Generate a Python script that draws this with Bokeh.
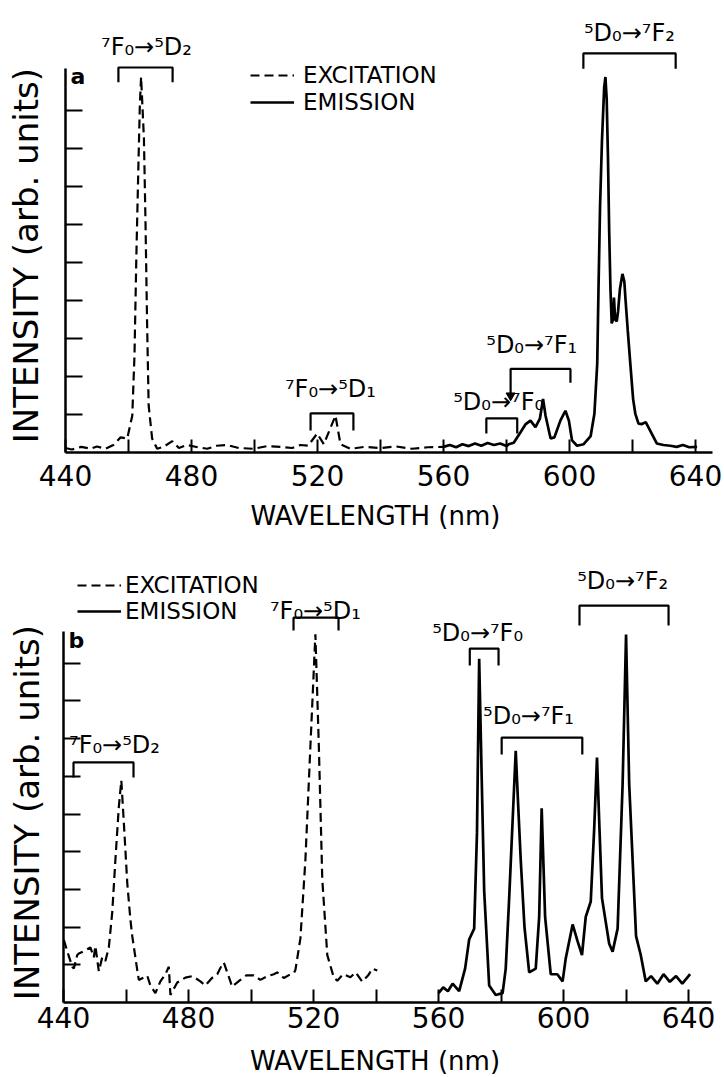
import math
from bokeh.plotting import figure
from bokeh.layouts import column
from bokeh.models import FixedTicker, Range1d, ColumnDataSource, Legend, LegendItem
from bokeh.core.properties import value
from bokeh.embed import file_html
from bokeh.resources import INLINE

FONT = "DejaVu Sans"

# ---------------- panel a data ----------------
a_exc_nm = [440, 442, 445, 448, 450, 452.7, 455.2, 457.5, 459.6, 461.2, 461.9, 462.5, 463.1, 463.6, 464.0,
            464.9, 465.4, 465.9, 466.4, 467.5, 469.1, 471.1, 473.9, 476, 478.6, 482, 485, 488, 491.3, 495,
            499.7, 504, 508.3, 512, 514.6, 517, 519.9, 522, 525.7, 527.3, 530.5, 535, 540, 545, 550, 555, 560]
a_exc_int = [0.12, 0.08, 0.15, 0.1, 0.16, 0.1, 0.2, 0.4, 0.37, 0.97, 2.55, 5.18, 7.38, 9.13, 9.88,
             8.26, 6.06, 3.43, 1.24, 0.37, 0.1, 0.15, 0.3, 0.12, 0.2, 0.14, 0.1, 0.18, 0.2, 0.12,
             0.1, 0.17, 0.15, 0.12, 0.2, 0.18, 0.5, 0.22, 0.97, 0.22, 0.1, 0.15, 0.12, 0.16, 0.1, 0.14, 0.15]

a_emi_nm = [560, 562, 564, 566, 568, 570, 572, 574, 576, 578, 580, 580.7, 582.3, 584.4, 586, 587.6, 589.2,
            590.6, 591.6, 592.4, 594, 595.2, 597.1, 598.7, 599.8, 600.8, 602.4, 604.5, 606.7, 607.9, 608.8,
            609.2, 609.7, 610.3, 611.0, 611.4, 611.8, 612.2, 612.6, 613.0, 613.4, 613.8, 614.1, 614.5, 615.0,
            615.4, 616.0, 616.8, 617.4, 617.8, 618.5, 619.3, 620.2, 620.9, 621.9, 623, 624.2, 625.6, 627.7,
            629.8, 632, 634, 636, 638, 640.5]
a_emi_int = [0.15, 0.2, 0.14, 0.22, 0.17, 0.24, 0.18, 0.25, 0.2, 0.24, 0.17, 0.22, 0.26, 0.53, 0.74, 0.84, 0.67,
             0.89, 1.41, 0.97, 0.37, 0.4, 0.84, 1.1, 0.84, 0.32, 0.18, 0.22, 0.43, 1.02, 2.34,
             4.3, 6.5, 8.2, 9.6, 9.88, 9.3, 7.8, 5.8, 4.3, 3.4, 3.5, 4.08, 3.5, 3.45,
             3.7, 4.3, 4.7, 4.5, 4.0, 3.2, 2.34, 1.4, 1.02, 0.76, 0.75, 0.8, 0.58, 0.24,
             0.2, 0.18, 0.15, 0.2, 0.14, 0.15]

a_lab_text = ["⁷F₀→⁵D₂", "⁷F₀→⁵D₁", "⁵D₀→⁷F₀", "⁵D₀→⁷F₁", "⁵D₀→⁷F₂"]
a_lab_x = [465.7, 524.1, 577.5, 588.0, 619.0]
a_lab_y = [10.66, 1.66, 1.32, 2.82, 11.03]
a_br_left = [456.8, 517.8, 573.6, 581.3, 604.4]
a_br_right = [474.0, 531.4, 583.4, 600.3, 633.7]
a_br_top = [10.13, 1.03, 0.9, 2.2, 10.5]
a_br_ldrop = [9.74, 0.58, 0.5, 1.5, 10.1]
a_br_rdrop = [9.74, 0.58, 0.5, 1.84, 10.1]
a_arrow_x = [581.3]
a_arrow_y = [1.5]

# ---------------- panel b data ----------------
b_exc_nm = [440.1, 441.2, 442.8, 443.3, 444.4, 444.9, 446.5, 448.6, 449.7, 450.2, 451.3, 452.4, 453.4, 454.5,
            455.6, 456.6, 457.7, 458.5, 459.3, 460.4, 461.4, 462.0, 463.6, 464.1, 465.7, 466.8, 467.8, 469.4,
            471, 472.6, 473.7, 474.2, 476.4, 479, 481.2, 483.8, 485.4, 487.5, 489.2, 490.7, 491.3, 493.4,
            493.9, 496.6, 498.5, 500.9, 503, 505.2, 507.3, 508.4, 510.5, 512.6, 513.7, 514.2, 515.8, 517.4,
            519, 520.6, 521.7, 522.8, 524.4, 526.5, 527.6, 529.5, 531.8, 533.5, 535.6, 537.5, 538.8, 540.4]
b_exc_int = [1.66, 1.36, 0.95, 0.9, 1.26, 1.3, 1.36, 1.46, 1.2, 1.5, 0.83, 1.2, 1.1, 1.46,
             2.4, 3.78, 5.19, 5.89, 4.78, 3.17, 2.2, 1.76, 0.86, 0.6, 0.66, 0.71, 0.45, 0.25,
             0.56, 0.75, 0.95, 0.2, 0.53, 0.66, 0.7, 0.56, 0.45, 0.65, 0.75, 1.0, 1.06, 0.56,
             0.42, 0.6, 0.72, 0.72, 0.6, 0.7, 0.75, 0.8, 0.65, 0.75, 0.78, 0.86, 1.7, 3.78,
             6.8, 9.77, 6.8, 3.27, 1.26, 0.66, 0.58, 0.75, 0.67, 0.8, 0.55, 0.72, 0.9, 0.85]

b_emi_nm = [560, 561.5, 563, 564.5, 566.6, 568.5, 569.8, 571.4, 572.3, 573, 573.8, 574.6, 576.2, 578.3,
            580.5, 581.5, 582.6, 583.8, 584.7, 585.5, 586.3, 587.5, 589, 591.1, 592.2, 593, 594.1, 595.9,
            598, 599.7, 600.7, 602.9, 604.5, 605.9, 607.1, 608.7, 609.8, 610.7, 611.5, 612.3, 614.6, 615.7,
            617.3, 618.9, 620, 621, 623.2, 624.7, 626.3, 628, 630, 632, 634, 636, 638, 640.5]
b_emi_int = [0.25, 0.4, 0.3, 0.5, 0.3, 0.9, 1.67, 1.96, 4.5, 9.12, 6.0, 2.97, 0.45, 0.2,
             0.25, 0.9, 2.77, 5.0, 6.68, 5.2, 3.78, 2.0, 0.8, 0.9, 2.27, 5.15, 2.27, 0.75,
             0.75, 0.56, 1.17, 2.07, 1.62, 1.26, 2.27, 2.68, 4.6, 6.5, 4.6, 2.77, 1.56, 1.35,
             1.96, 5.8, 9.76, 5.8, 1.76, 1.26, 0.56, 0.7, 0.5, 0.75, 0.55, 0.7, 0.5, 0.75]

b_lab_text = ["⁷F₀→⁵D₂", "⁷F₀→⁵D₁", "⁵D₀→⁷F₀", "⁵D₀→⁷F₁", "⁵D₀→⁷F₂"]
b_lab_x = [456.3, 520.6, 572.5, 588.8, 618.9]
b_lab_y = [6.82, 10.4, 9.81, 7.61, 11.17]
b_br_left = [443.2, 513.6, 570.0, 580.2, 605.1]
b_br_right = [462.4, 528.0, 579.2, 606.0, 633.6]
b_br_top = [6.37, 10.21, 9.39, 7.03, 10.53]
b_br_ldrop = [5.97, 9.87, 8.94, 6.58, 10.0]
b_br_rdrop = [5.97, 9.87, 8.94, 6.58, 10.0]
b_arrow_x = []
b_arrow_y = []

x_major = [440, 480, 520, 560, 600, 640]
x_minor = [460, 500, 540, 580, 620]
y_ticks = [1, 2, 3, 4, 5, 6, 7, 8, 9]
x_title = "WAVELENGTH  (nm)"
y_title = "INTENSITY (arb. units)"
legend_labels = ["EXCITATION", "EMISSION"]


def make_panel(tag, tag_y, exc_nm, exc_int, emi_nm, emi_int, lab_text, lab_x, lab_y,
               br_l, br_r, br_t, br_ld, br_rd, arr_x, arr_y, height, x_start, x_end, y_start, y_end,
               xbound, ybound, lab_standoff, title_x, title_y, ytitle_x, ytitle_y,
               leg_x, leg_y1, leg_y2, legend_standoff):
    p = figure(width=724, height=height, output_backend="svg", toolbar_location=None,
               x_range=Range1d(x_start, x_end), y_range=Range1d(y_start, y_end),
               min_border_left=0, min_border_right=0, min_border_top=2,
               min_border_bottom=0)
    p.outline_line_color = None
    p.xgrid.visible = False
    p.ygrid.visible = False
    p.background_fill_color = "white"

    r_exc = p.line(exc_nm, exc_int, line_color="black", line_width=2.2, line_dash="9 5")
    r_emi = p.line(emi_nm, emi_int, line_color="black", line_width=2.7)

    xs = [[l, l, r, r] for l, r in zip(br_l, br_r)]
    ys = [[ld, t, t, rd] for ld, t, rd in zip(br_ld, br_t, br_rd)]
    p.multi_line(xs, ys, line_color="black", line_width=2.2)
    if arr_x:
        p.scatter(arr_x, arr_y, marker="inverted_triangle", size=9, color="black")

    src = ColumnDataSource(dict(x=lab_x, y=lab_y, text=lab_text))
    p.text(x="x", y="y", text="text", source=src, text_font=value(FONT),
           text_font_size="24px", text_align="center", text_baseline="middle",
           text_color="black")
    p.text(x=[441.6], y=[tag_y], text=[tag], text_font=value(FONT), text_font_size="22px",
           text_font_style="bold", text_align="left", text_baseline="middle", text_color="black")
    # axis titles
    p.text(x=[title_x], y=[title_y], text=[x_title], text_font=value(FONT), text_font_size="26px",
           text_align="center", text_baseline="middle", text_color="black")
    p.text(x=[ytitle_x], y=[ytitle_y], text=[y_title], angle=math.pi / 2,
           text_font=value(FONT), text_font_size="34px",
           text_align="center", text_baseline="middle", text_color="black")

    # x axis at intensity 0
    xa = p.xaxis[0]
    xa.fixed_location = 0
    xa.ticker = FixedTicker(ticks=x_major, minor_ticks=x_minor)
    xa.bounds = xbound
    xa.axis_line_width = 2.5
    xa.axis_line_color = "black"
    xa.major_tick_in = 13
    xa.major_tick_out = 0
    xa.minor_tick_in = 13
    xa.minor_tick_out = 0
    xa.major_tick_line_width = 2
    xa.minor_tick_line_width = 2
    xa.major_label_text_font = FONT
    xa.major_label_text_font_size = "28px"
    xa.major_label_text_color = "black"
    xa.major_label_standoff = lab_standoff

    # y axis at 440 nm
    ya = p.yaxis[0]
    ya.fixed_location = 440
    ya.ticker = FixedTicker(ticks=y_ticks, minor_ticks=[])
    ya.bounds = ybound
    ya.axis_line_width = 2.5
    ya.axis_line_color = "black"
    ya.major_tick_in = 17
    ya.major_tick_out = 0
    ya.minor_tick_in = 0
    ya.minor_tick_out = 0
    ya.major_tick_line_width = 2
    ya.major_label_overrides = {t: "" for t in y_ticks}
    ya.major_label_standoff = 0

    for lbl, rend, ly in ((legend_labels[0], r_exc, leg_y1), (legend_labels[1], r_emi, leg_y2)):
        legend = Legend(items=[LegendItem(label=lbl, renderers=[rend])],
                        location=(leg_x, ly), orientation="vertical",
                        label_text_font=FONT, label_text_font_size="23px",
                        label_text_color="black", glyph_width=44, glyph_height=20,
                        label_height=20, label_standoff=legend_standoff, spacing=0,
                        padding=0, margin=0, border_line_color=None,
                        background_fill_alpha=0)
        p.add_layout(legend, "center")
    return p


pa = make_panel("a", 9.9, a_exc_nm, a_exc_int, a_emi_nm, a_emi_int, a_lab_text, a_lab_x, a_lab_y,
                a_br_left, a_br_right, a_br_top, a_br_ldrop, a_br_rdrop, a_arrow_x, a_arrow_y,
                height=530, x_start=419.37, x_end=649.2, y_start=-2.05, y_end=11.84,
                xbound=(440, 645.5), ybound=(0, 10.1), lab_standoff=12,
                title_x=539.7, title_y=-1.66, ytitle_x=427.6, ytitle_y=5.18,
                leg_x=250, leg_y1=441.6, leg_y2=414.6, legend_standoff=9)
pb = make_panel("b", 9.6, b_exc_nm, b_exc_int, b_emi_nm, b_emi_int, b_lab_text, b_lab_x, b_lab_y,
                b_br_left, b_br_right, b_br_top, b_br_ldrop, b_br_rdrop, b_arrow_x, b_arrow_y,
                height=547, x_start=419.84, x_end=651.5, y_start=-1.99, y_end=12.47,
                xbound=(440, 647.5), ybound=(0, 9.85), lab_standoff=5,
                title_x=541.0, title_y=-1.565, ytitle_x=428.3, ytitle_y=5.04,
                leg_x=77, leg_y1=478.6, leg_y2=452.6, legend_standoff=4)

layout = column(pa, pb, spacing=0)
open("out.html", "w").write(file_html(layout, INLINE))
